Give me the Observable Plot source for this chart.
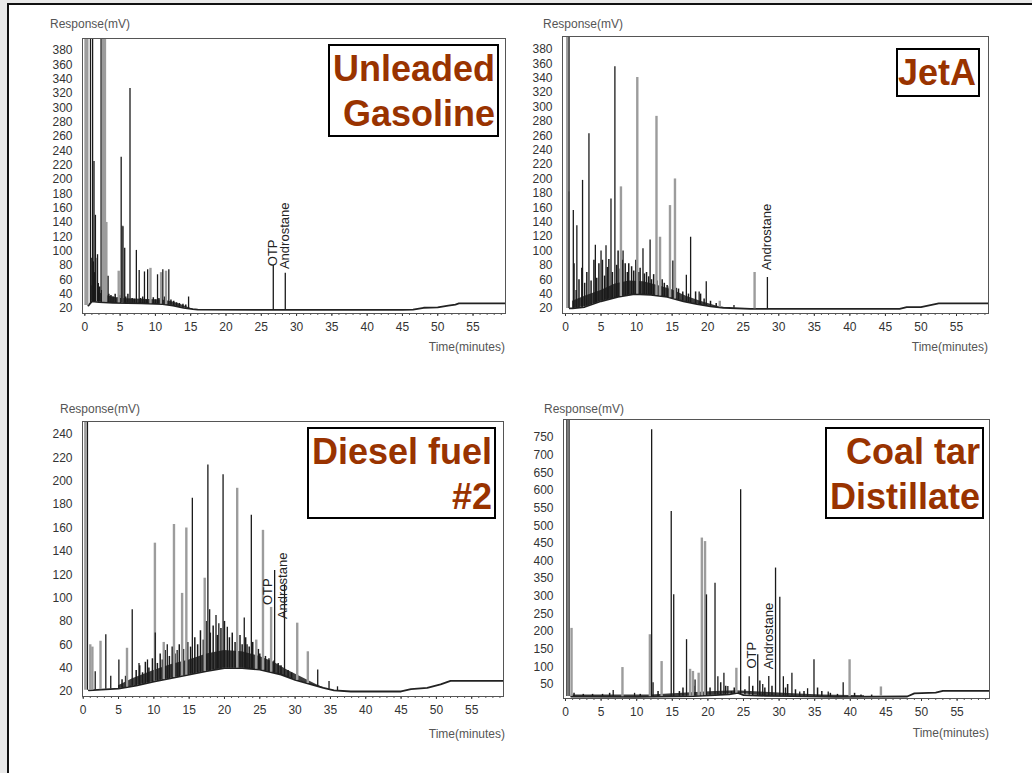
<!DOCTYPE html>
<html>
<head>
<meta charset="utf-8">
<script src="https://cdn.jsdelivr.net/npm/d3@7"></script>
<script src="https://cdn.jsdelivr.net/npm/@observablehq/plot@0.6"></script>
<style>
  html, body { margin: 0; padding: 0; }
  body { width: 1032px; height: 773px; overflow: hidden; background: #e9e9e9; position: relative;
         font-family: "Liberation Sans", Arial, sans-serif; }
  #slide { position: absolute; left: 7px; top: 3px; width: 1040px; height: 790px; background: #fff;
           border-left: 2px solid #111; border-top: 2px solid #111; }
  .panel { position: absolute; }
  .panel svg { overflow: visible; }
  .ax { position: absolute; font-size: 12px; line-height: 14px; color: #555; white-space: nowrap; }
  .lbl { position: absolute; box-sizing: border-box; background: #fff; border: 2px solid #000;
         color: #993300; font: bold 36px "Liberation Sans", Arial, sans-serif; line-height: 45px;
         text-align: right; padding-right: 2px; white-space: nowrap; }
</style>
</head>
<body>
<div id="slide"></div>
<div id="root"></div>
<script>
// ---------- ticks ----------
const xTicks = [0, 5, 10, 15, 20, 25, 30, 35, 40, 45, 50, 55];
const minuteTicks = d3.range(0, 60);
const yTicksGas = [20, 40, 60, 80, 100, 120, 140, 160, 180, 200, 220, 240, 260, 280, 300, 320, 340, 360, 380];
const yTicksJet = [20, 40, 60, 80, 100, 120, 140, 160, 180, 200, 220, 240, 260, 280, 300, 320, 340, 360, 380];
const yTicksDiesel = [20, 40, 60, 80, 100, 120, 140, 160, 180, 200, 220, 240];
const yTicksCoal = [50, 100, 150, 200, 250, 300, 350, 400, 450, 500, 550, 600, 650, 700, 750];

// ---------- Unleaded Gasoline ----------
const gasBase = [[0.5,24],[1,30],[2,29],[4,28],[8,27],[11,26],[12.5,24],[14,21],[15.3,19],[16,18.5],[25,18],[35,18],[45,18],[46.5,18.5],[48,21],[50,21.5],[51.5,24],[52.5,25.5],[53,27],[59.6,27]];
const gasMass = [[1,52],[1.5,48],[2,42],[3,38],[5,34],[8,33],[11,32],[12.5,29],[13.5,26],[14.5,22],[15.3,19]];
const gasDark = [[0.8,400],[1.1,400],[2.3,400],[1.3,225],[1.5,150],[1.8,95],[3.3,65],[5.15,231],[5.4,134],[5.65,104],[6.4,327],[7.3,101],[7.7,73],[8.45,71],[8.9,74],[10.3,67],[11.05,74],[11.9,74],[14.7,36],[26.7,80],[28.4,69]];
const gasGray = [[0.1,400],[0.35,400],[2.6,400],[2.85,400],[3.05,140],[1.7,90],[4.8,72],[5.3,135],[9.3,76],[10.8,70],[11.5,72]];
const gasGrass = [[1.0,90],[1.2,85],[1.4,70],[1.6,60],[1.9,55],[2.1,50],[2.4,45],[2.6,48],[2.9,42],[3.4,40],[3.7,38],[4.0,36],[4.3,40],[4.6,35],[4.9,38],[5.8,36],[6.1,40],[6.7,34],[7.0,33],[7.9,34],[8.2,36],[8.7,32],[9.7,35],[10.0,32],[10.5,34],[11.3,36],[11.5,33],[12.2,32],[12.6,30],[13.0,28],[13.4,27],[13.9,26],[14.3,25]];
const gasNotes = [["OTP",26.6,79],["Androstane",28.4,75]];

// ---------- JetA ----------
const jetBase = [[0.6,20],[1,20],[2.7,22],[5,30],[7.4,36],[9.7,40],[12,39],[14.3,36],[16.6,30],[18.5,26],[20.4,23],[22.2,21],[26,19.5],[47,19.5],[48,22],[50,22],[51,24],[52.5,27],[59.5,27]];
const jetMass = [[1,30],[3,38],[5,45],[7,54],[9,58],[11,57],[13,52],[15,46],[17,37],[19,30],[21,24],[22.2,21]];
const jetDark = [[0.5,400],[1.1,156],[1.6,135],[2.4,198],[3.3,263],[4.2,108],[5.0,100],[5.7,107],[6.4,172],[6.95,356],[8.1,100],[10.9,103],[11.9,115],[15.1,86],[17.0,66],[17.6,119],[18.8,43],[19.8,57],[23.7,24],[28.4,63]];
const jetGray = [[0.25,400],[0.4,182],[7.8,189],[10.1,341],[12.8,287],[13.3,119],[14.7,163],[15.4,200],[21.7,30],[26.6,70]];
const jetGrass = [[1.2,82],[1.5,45],[1.9,60],[2.3,76],[2.7,55],[3.0,70],[3.6,58],[4.0,87],[4.4,62],[4.7,82],[5.2,87],[5.5,65],[5.9,77],[6.1,88],[6.6,70],[7.2,80],[7.4,100],[7.7,75],[8.0,87],[8.4,82],[8.7,70],[8.9,82],[9.3,78],[9.6,72],[9.9,87],[10.3,70],[10.5,76],[11.1,68],[11.4,70],[11.7,64],[12.1,60],[12.4,67],[12.9,58],[13.6,60],[13.9,55],[14.3,52],[14.6,50],[15.6,48],[15.9,47],[16.5,43],[17.3,40],[18.3,43],[19.0,40],[19.5,33],[20.4,30],[21.2,27]];
const jetNotes = [["Androstane",28.3,73]];

// ---------- Diesel fuel #2 ----------
const dieselBase = [[0.8,21],[5,22.5],[7.5,25],[10,28.5],[12.5,31.5],[15,34.5],[17.5,37.5],[20,40],[22.5,40],[25,38.8],[28,34.5],[30,30],[32,26.5],[34,23],[35.5,21],[37.9,20],[45,20],[46.4,22],[48.7,23],[50.6,26],[52,29],[59.5,29]];
const dieselMass = [[5,25],[7,31],[10,38],[12.5,43],[15,47],[17.5,52],[20,55],[22.5,54],[25,50],[27,45],[29,38],[31,32],[33,26],[34.5,22]];
const dieselDark = [[0.6,260],[1.7,37],[3.2,68.5],[3.9,33],[5.05,47],[6.94,90],[7.9,44],[9.1,47],[10.2,70],[11.9,60],[13.3,55],[15.45,185.5],[17.65,214],[17.9,90],[18.8,85],[19.2,78],[19.8,205.5],[20.4,75],[22.8,83],[23.2,60],[23.8,171],[27.1,123.6],[28.5,112],[33.2,38.5],[34.8,28.5],[36.0,24]];
const dieselGray = [[0.3,260],[1.0,60],[1.3,58],[2.45,63],[6.2,57],[10.15,147],[11.4,62],[12.85,163],[14.0,104],[14.6,160],[17.2,117],[21.8,194],[24.5,64],[25.45,158],[26.6,92],[30.3,78.5],[31.8,54]];
const dieselGrass = [[5.5,30],[6.0,33],[7.5,38],[8.0,42],[8.4,36],[8.8,45],[9.3,40],[9.8,48],[10.5,44],[10.9,52],[11.2,47],[11.6,55],[12.2,50],[12.6,58],[13.0,52],[13.6,60],[14.2,56],[14.8,62],[15.2,58],[15.8,66],[16.2,60],[16.6,72],[17.0,64],[17.4,80],[18.0,70],[18.4,76],[19.0,68],[19.5,74],[20.0,80],[20.7,66],[21.1,70],[21.5,62],[22.2,68],[22.5,60],[23.0,66],[23.5,58],[24.0,62],[24.8,56],[25.0,52],[25.8,50],[26.3,48],[27.0,46],[27.6,44],[28.0,42],[29.0,38],[29.5,36]];
const dieselNotes = [["OTP",26.2,94],["Androstane",28.3,82]];

// ---------- Coal tar Distillate ----------
const coalBase = [[0.8,16],[10,15],[18,17],[21,20],[23,22],[24.2,26],[25,20],[28,18],[32,17],[38,15],[48,16],[49,25],[52,27],[53,32],[59.5,32]];
const coalMass = [[0.8,20],[12,20],[17,26],[21,30],[24,32],[28,28],[32,24],[36,20],[42,18]];
const coalDark = [[0.2,810],[0.5,810],[6.7,33],[9.7,25],[12.1,772],[12.3,55],[14.85,540],[15.2,304],[17.0,177],[18.2,63],[19.8,304],[21.0,337],[21.4,72],[22.25,82],[22.8,44],[24.6,602],[25.8,72],[27.0,134],[27.7,50],[28.55,73],[29.5,380],[30.1,297],[30.6,72],[31.8,82],[32.9,29],[34.0,38],[34.9,120],[36.9,29],[39.0,55]];
const coalGray = [[0.85,209],[8.0,98],[11.85,191],[13.5,115],[17.5,93],[17.9,87],[18.7,82],[19.15,465],[19.6,455],[24.0,96],[39.9,120],[44.3,43]];
const coalGrass = [[1.2,25],[2.5,22],[3.8,22],[5.2,22],[6.2,25],[10.5,22],[13.0,30],[16.0,30],[16.5,40],[18.0,45],[20.3,40],[21.8,55],[22.5,45],[23.3,30],[23.7,40],[25.2,35],[26.3,45],[27.3,60],[28.0,40],[29.0,45],[30.9,40],[31.2,50],[32.3,35],[33.5,30],[35.4,40],[36.0,30],[37.2,25],[38.2,22],[40.6,25],[41.5,20],[43.0,20]];
const coalNotes = [["OTP",26.2,95],["Androstane",28.5,93]];

// ---------- helpers ----------
function baseAt(base, t) {
  const i = d3.bisector(d => d[0]).left(base, t);
  if (i <= 0) return base[0][1];
  if (i >= base.length) return base[base.length - 1][1];
  const [t0, v0] = base[i - 1], [t1, v1] = base[i];
  return v0 + (v1 - v0) * (t - t0) / (t1 - t0);
}

const root = document.getElementById("root");

function addDiv(cls, text, style) {
  const d = document.createElement("div");
  d.className = cls;
  d.innerHTML = text;
  Object.assign(d.style, style);
  root.appendChild(d);
  return d;
}

function panel(cfg) {
  const [L, T, W, H] = cfg.box;
  const [fx0, fy0, fx1, fy1] = cfg.frame;
  const foot = d => baseAt(cfg.base, d[0]);
  const plot = Plot.plot({
    width: W, height: H,
    marginLeft: fx0 - L, marginTop: fy0 - T, marginRight: L + W - fx1, marginBottom: T + H - fy1,
    x: {domain: cfg.xDomain},
    y: {domain: cfg.yDomain},
    style: {fontFamily: "'Liberation Sans', Arial, sans-serif", fontSize: "12px", color: "#333", background: "transparent"},
    marks: [
      Plot.axisY(cfg.yTicks, {tickSize: 0, tickPadding: 10, label: null}),
      Plot.axisX(minuteTicks, {tickSize: 2, text: null, label: null, stroke: "#555"}),
      Plot.axisX(xTicks, {tickSize: 3, tickPadding: 6, label: null}),
      Plot.areaY(cfg.mass, {x: d => d[0], y1: foot, y2: d => d[1], fill: "#2a2a2a", fillOpacity: 0.9, clip: true}),
      Plot.line(cfg.base, {x: d => d[0], y: d => d[1], stroke: "#222", strokeWidth: 1.8, clip: true}),
      Plot.ruleX(cfg.grass, {x: d => d[0], y1: foot, y2: d => d[1], stroke: "#1a1a1a", strokeWidth: 1.5, clip: true}),
      Plot.ruleX(cfg.gray, {x: d => d[0], y1: foot, y2: d => d[1], stroke: "#9c9c9c", strokeWidth: 2.4, clip: true}),
      Plot.ruleX(cfg.dark, {x: d => d[0], y1: foot, y2: d => d[1], stroke: "#1a1a1a", strokeWidth: 1.3, clip: true}),
      Plot.text(cfg.notes, {x: d => d[1], y: d => d[2], text: d => d[0], rotate: -90, textAnchor: "start", fontSize: 13, fill: "#222"}),
      Plot.frame({stroke: "#555"})
    ]
  });
  const wrap = document.createElement("div");
  wrap.className = "panel";
  wrap.style.left = L + "px";
  wrap.style.top = T + "px";
  wrap.appendChild(plot);
  root.appendChild(wrap);
  addDiv("ax", "Response(mV)", {left: cfg.resp[0] + "px", top: cfg.resp[1] + "px"});
  addDiv("ax", "Time(minutes)", {left: (cfg.time[0] - 90) + "px", width: "90px", textAlign: "right", top: cfg.time[1] + "px"});
  addDiv("lbl", cfg.title, {left: cfg.lbl[0] + "px", top: cfg.lbl[1] + "px", width: cfg.lbl[2] + "px", height: cfg.lbl[3] + "px"});
}

panel({box: [40, 30, 475, 310], frame: [82, 38, 505, 313], xDomain: [-0.33, 59.6], yDomain: [13, 396.6],
  yTicks: yTicksGas, base: gasBase, mass: gasMass, dark: gasDark, gray: gasGray, grass: gasGrass, notes: gasNotes,
  resp: [50, 17], time: [505, 340], lbl: [328, 44, 171, 93], title: "Unleaded<br>Gasoline"});

panel({box: [520, 28, 478, 312], frame: [562, 36, 988, 313], xDomain: [-0.42, 59.5], yDomain: [13, 398],
  yTicks: yTicksJet, base: jetBase, mass: jetMass, dark: jetDark, gray: jetGray, grass: jetGrass, notes: jetNotes,
  resp: [543, 17], time: [988, 340], lbl: [896, 48, 84, 49], title: "JetA"});

panel({box: [40, 413, 473, 310], frame: [82, 421, 503, 696], xDomain: [-0.1, 59.5], yDomain: [15.7, 251.2],
  yTicks: yTicksDiesel, base: dieselBase, mass: dieselMass, dark: dieselDark, gray: dieselGray, grass: dieselGrass, notes: dieselNotes,
  resp: [60, 402], time: [505, 727], lbl: [307, 427, 189, 92], title: "Diesel fuel<br>#2"});

panel({box: [520, 411, 479, 314], frame: [563, 419, 989, 698], xDomain: [-0.28, 59.55], yDomain: [10.3, 801],
  yTicks: yTicksCoal, base: coalBase, mass: coalMass, dark: coalDark, gray: coalGray, grass: coalGrass, notes: coalNotes,
  resp: [544, 402], time: [989, 726], lbl: [825, 427, 159, 92], title: "Coal tar<br>Distillate"});
</script>
</body>
</html>
